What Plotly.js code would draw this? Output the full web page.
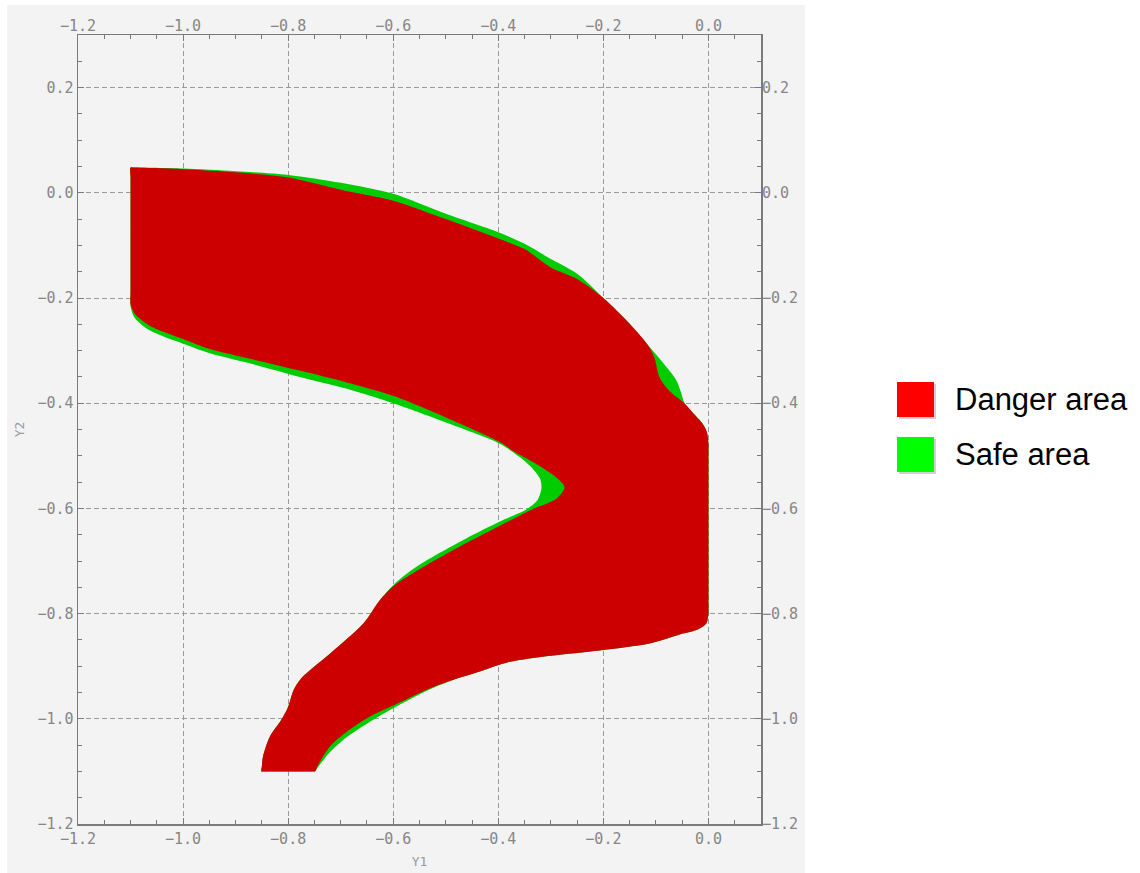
<!DOCTYPE html>
<html>
<head>
<meta charset="utf-8">
<script src="https://cdn.plot.ly/plotly-3.0.1.min.js"></script>
<style>html,body{margin:0;padding:0;background:#fff;}#chart{width:1140px;height:873px;}</style>
</head>
<body>
<div id="chart"></div>
<script>
// Safe area (outer boundary, green) — Y1 / Y2 coordinates
const safeY1 = [-1.100,-1.100,-1.100,-1.092,-1.000,-0.900,-0.800,-0.700,-0.600,-0.500,-0.400,-0.350,-0.300,-0.250,-0.200,-0.150,-0.115,-0.085,-0.062,-0.052,-0.045,-0.028,-0.011,-0.003,0.000,0.000,0.000,0.000,-0.004,-0.020,-0.049,-0.112,-0.207,-0.300,-0.380,-0.435,-0.480,-0.530,-0.600,-0.645,-0.690,-0.722,-0.744,-0.749,-0.756,-0.845,-0.851,-0.850,-0.848,-0.835,-0.813,-0.800,-0.790,-0.775,-0.720,-0.657,-0.626,-0.600,-0.569,-0.537,-0.461,-0.397,-0.347,-0.326,-0.318,-0.320,-0.334,-0.360,-0.397,-0.493,-0.600,-0.690,-0.778,-0.870,-0.949,-1.000,-1.063,-1.092,-1.100,-1.100,-1.100];
const safeY2 = [-0.080,0.030,0.048,0.048,0.046,0.041,0.034,0.019,-0.002,-0.040,-0.075,-0.097,-0.126,-0.154,-0.200,-0.249,-0.290,-0.325,-0.355,-0.380,-0.401,-0.420,-0.439,-0.455,-0.477,-0.500,-0.780,-0.800,-0.819,-0.830,-0.838,-0.857,-0.870,-0.880,-0.892,-0.910,-0.924,-0.944,-0.980,-1.006,-1.036,-1.065,-1.093,-1.100,-1.100,-1.100,-1.100,-1.090,-1.072,-1.034,-1.002,-0.977,-0.946,-0.923,-0.876,-0.819,-0.775,-0.746,-0.720,-0.699,-0.657,-0.625,-0.602,-0.585,-0.562,-0.545,-0.525,-0.502,-0.477,-0.439,-0.400,-0.372,-0.350,-0.325,-0.305,-0.287,-0.262,-0.238,-0.215,-0.190,-0.080];

// Danger area (red)
const dangerY1 = [-1.100,-1.100,-1.100,-1.092,-1.000,-0.900,-0.800,-0.700,-0.600,-0.500,-0.400,-0.350,-0.300,-0.250,-0.200,-0.150,-0.115,-0.103,-0.093,-0.075,-0.045,-0.028,-0.011,-0.003,0.000,0.000,0.000,0.000,-0.004,-0.020,-0.049,-0.112,-0.207,-0.300,-0.380,-0.435,-0.480,-0.530,-0.594,-0.645,-0.689,-0.721,-0.744,-0.749,-0.756,-0.845,-0.851,-0.850,-0.848,-0.835,-0.813,-0.800,-0.790,-0.775,-0.720,-0.657,-0.626,-0.600,-0.569,-0.537,-0.461,-0.397,-0.334,-0.290,-0.274,-0.290,-0.334,-0.370,-0.397,-0.493,-0.600,-0.690,-0.778,-0.870,-0.949,-1.000,-1.063,-1.092,-1.100,-1.100,-1.100];
const dangerY2 = [-0.080,0.030,0.048,0.048,0.045,0.039,0.029,0.006,-0.015,-0.050,-0.087,-0.107,-0.142,-0.164,-0.200,-0.249,-0.290,-0.313,-0.351,-0.376,-0.401,-0.420,-0.439,-0.455,-0.477,-0.500,-0.780,-0.800,-0.819,-0.830,-0.838,-0.857,-0.870,-0.880,-0.892,-0.910,-0.924,-0.942,-0.972,-0.996,-1.025,-1.053,-1.090,-1.100,-1.100,-1.100,-1.100,-1.090,-1.072,-1.034,-1.002,-0.977,-0.946,-0.923,-0.876,-0.819,-0.775,-0.748,-0.727,-0.708,-0.666,-0.633,-0.601,-0.582,-0.560,-0.541,-0.512,-0.492,-0.474,-0.430,-0.386,-0.360,-0.338,-0.316,-0.297,-0.278,-0.253,-0.230,-0.212,-0.190,-0.080];

const seriesNames = ['Danger area', 'Safe area'];
const xTitle = 'Y1';
const yTitle = 'Y2';

const fillDanger = '#cc0000', fillSafe = '#00cc00';
const swatchDanger = '#ff0000', swatchSafe = '#00ff00';

const tickFont = {family: 'DejaVu Sans Mono, monospace', size: 15, color: '#868686'};
const frame = '#7a7a7a';

const traces = [
  {x: safeY1, y: safeY2, type: 'scatter', mode: 'lines', fill: 'toself', fillcolor: fillSafe,
   line: {width: 0, color: fillSafe, shape: 'spline', smoothing: 0.8}, name: seriesNames[1], showlegend: false, hoverinfo: 'skip'},
  {x: dangerY1, y: dangerY2, type: 'scatter', mode: 'lines', fill: 'toself', fillcolor: fillDanger,
   line: {width: 0, color: fillDanger, shape: 'spline', smoothing: 0.8}, name: seriesNames[0], showlegend: false, hoverinfo: 'skip'},
  {x: [], y: [], xaxis: 'x2', yaxis: 'y2', type: 'scatter', mode: 'lines', showlegend: false, hoverinfo: 'skip'}
];

const common = {
  dtick: 0.2, tick0: 0, tickformat: '.1f', tickfont: tickFont,
  zeroline: false, fixedrange: true
};

const layout = {
  width: 1140, height: 873,
  margin: {l: 78, r: 379, t: 35, b: 49, pad: 0},
  paper_bgcolor: '#ffffff',
  plot_bgcolor: '#f3f3f3',
  showlegend: false,
  xaxis: Object.assign({}, common, {
    range: [-1.2, 0.1], side: 'bottom',
    ticks: 'inside', ticklen: 6, tickcolor: frame, tickwidth: 1,
    showline: true, linecolor: frame, linewidth: 1.5, mirror: 'allticks',
    showgrid: true, gridcolor: '#9a9a9a', gridwidth: 1, griddash: '5px,3px',
    minor: {dtick: 0.05, tick0: 0, ticks: 'inside', ticklen: 4, tickcolor: frame, showgrid: false},
    title: {text: xTitle, font: {family: 'DejaVu Sans Mono, monospace', size: 13, color: '#9a9a9a'}, standoff: 10}
  }),
  yaxis: Object.assign({}, common, {
    range: [-1.2, 0.3], side: 'left',
    ticks: 'inside', ticklen: 6, tickcolor: frame, tickwidth: 1,
    showline: true, linecolor: frame, linewidth: 1.5, mirror: 'allticks',
    showgrid: true, gridcolor: '#9a9a9a', gridwidth: 1, griddash: '5px,3px',
    minor: {dtick: 0.05, tick0: 0, ticks: 'inside', ticklen: 4, tickcolor: frame, showgrid: false},
    title: {text: yTitle, font: {family: 'DejaVu Sans Mono, monospace', size: 13, color: '#9a9a9a'}, standoff: 10}
  }),
  xaxis2: Object.assign({}, common, {
    range: [-1.2, 0.1], overlaying: 'x', side: 'top', anchor: 'y2',
    ticks: '', showline: false, showgrid: false
  }),
  yaxis2: Object.assign({}, common, {
    range: [-1.2, 0.3], overlaying: 'y', side: 'right', anchor: 'x2',
    ticks: '', showline: false, showgrid: false
  }),
  shapes: [
    {type: 'rect', xref: 'paper', yref: 'paper', x0: -0.104, x1: 1.0644, y0: -0.0621, y1: 1.038,
     fillcolor: '#f3f3f3', line: {width: 0}, layer: 'below'},
    // legend swatches (with soft shadow)
    {type: 'rect', xref: 'paper', yref: 'paper', x0: 1.2020, x1: 1.2562, y0: 0.5133, y1: 0.5577,
     fillcolor: '#d0d0d0', line: {width: 0}},
    {type: 'rect', xref: 'paper', yref: 'paper', x0: 1.1991, x1: 1.2533, y0: 0.5158, y1: 0.5602,
     fillcolor: swatchDanger, line: {width: 0}},
    {type: 'rect', xref: 'paper', yref: 'paper', x0: 1.2020, x1: 1.2562, y0: 0.4436, y1: 0.4880,
     fillcolor: '#d0d0d0', line: {width: 0}},
    {type: 'rect', xref: 'paper', yref: 'paper', x0: 1.1991, x1: 1.2533, y0: 0.4461, y1: 0.4905,
     fillcolor: swatchSafe, line: {width: 0}}
  ],
  annotations: [
    {xref: 'paper', yref: 'paper', x: 1.281, y: 0.5374, xanchor: 'left', yanchor: 'middle',
     text: seriesNames[0], showarrow: false, font: {family: 'Liberation Sans, Arial, sans-serif', size: 31, color: '#000'}},
    {xref: 'paper', yref: 'paper', x: 1.281, y: 0.4677, xanchor: 'left', yanchor: 'middle',
     text: seriesNames[1], showarrow: false, font: {family: 'Liberation Sans, Arial, sans-serif', size: 31, color: '#000'}}
  ]
};

Plotly.newPlot('chart', traces, layout, {displayModeBar: false, staticPlot: true});
</script>
</body>
</html>
